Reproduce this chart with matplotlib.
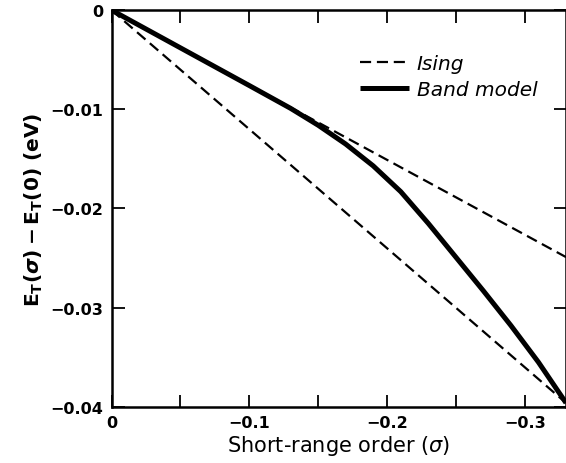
import numpy as np
import matplotlib
matplotlib.use("Agg")
import matplotlib.pyplot as plt
from matplotlib.ticker import FixedLocator

# Values
sigma_ising = [0.0, -0.33]
ising_upper = [0.0, -0.0249]
ising_lower = [0.0, -0.0396]

sigma_band = [0.0, -0.05, -0.10, -0.13, -0.15, -0.17, -0.19, -0.21, -0.23,
              -0.25, -0.27, -0.29, -0.31, -0.33]
e_band = [0.0, -0.0038, -0.0076, -0.0099, -0.0116, -0.0135, -0.0157, -0.0183,
          -0.0215, -0.0249, -0.0283, -0.0318, -0.0355, -0.0396]

xticks = [0.0, -0.1, -0.2, -0.3]
xtick_labels = ["0", "\u22120.1", "\u22120.2", "\u22120.3"]
yticks = [0.0, -0.01, -0.02, -0.03, -0.04]
ytick_labels = ["0", "\u22120.01", "\u22120.02", "\u22120.03", "\u22120.04"]

plt.rcParams['font.family'] = ['DejaVu Sans']
plt.rcParams['mathtext.fontset'] = 'dejavusans'

fig = plt.figure(figsize=(5.66, 4.64), dpi=100)
ax = fig.add_axes([0.197, 0.121, 0.803, 0.855])

dash = (0, (5, 2.6))
ax.plot(sigma_ising, ising_upper, color='black', lw=1.6, linestyle=dash)
ax.plot(sigma_ising, ising_lower, color='black', lw=1.6, linestyle=dash, label='Ising')
ax.plot(sigma_band, e_band, color='black', lw=3.6, solid_capstyle='butt',
        solid_joinstyle='round', label='Band model')

ax.set_xlim(0, -0.33)
ax.set_ylim(-0.04, 0)

ax.xaxis.set_major_locator(FixedLocator(xticks))
ax.set_xticklabels(xtick_labels)
ax.xaxis.set_minor_locator(FixedLocator([-0.05, -0.15, -0.25]))
ax.yaxis.set_major_locator(FixedLocator(yticks))
ax.set_yticklabels(ytick_labels)

ax.tick_params(which='both', direction='in', length=9, width=1.3,
               top=True, right=True, labelsize=11.5, pad=6)
for lab in ax.get_xticklabels() + ax.get_yticklabels():
    lab.set_fontweight('bold')

for sp in ax.spines.values():
    sp.set_linewidth(1.8)

ax.set_xlabel(r'Short-range order ($\sigma$)', fontsize=15, labelpad=2)
ax.set_ylabel(r'$\mathbf{E_T(}\boldsymbol{\sigma}\mathbf{)-E_T(0)}$ (eV)',
              fontsize=14.5, fontweight='bold', labelpad=4)

leg = ax.legend(loc='upper left', bbox_to_anchor=(0.53, 0.91), frameon=False,
                handlelength=2.4, handletextpad=0.4, labelspacing=0.35,
                borderaxespad=0, prop={'style': 'italic', 'size': 14.5})

fig.savefig('out.png', dpi=100)
